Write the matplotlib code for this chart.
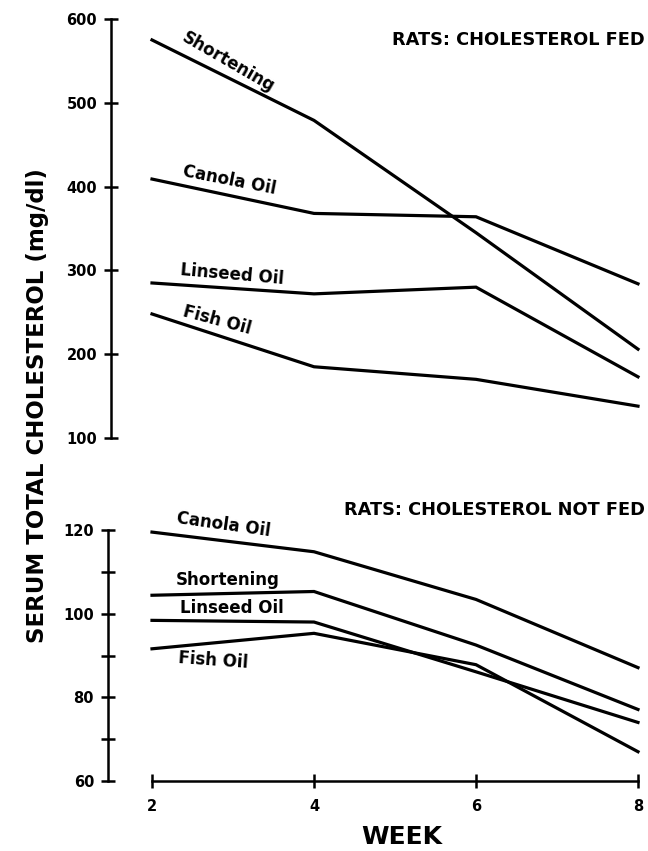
import matplotlib
matplotlib.use("Agg")
import matplotlib.pyplot as plt
from matplotlib.ticker import FixedLocator

plt.rcParams['font.family'] = ['DejaVu Sans']
plt.rcParams['font.weight'] = 'bold'

weeks = [2, 4, 6, 8]

# Cholesterol fed (mg/dl)
fed_shortening = [575, 479, 345, 206]
fed_canola = [409, 368, 364, 284]
fed_linseed = [285, 272, 280, 173]
fed_fish = [248, 185, 170, 138]

# Cholesterol not fed (mg/dl)
nf_canola = [119.5, 114.8, 103.4, 87.1]
nf_shortening = [104.4, 105.3, 92.5, 77.1]
nf_linseed = [98.4, 98.0, 86.1, 74.0]
nf_fish = [91.6, 95.3, 87.8, 67.0]

yticks_fed = [100, 200, 300, 400, 500, 600]
yticks_nf = [60, 80, 100, 120]
yminor_nf = [70, 90, 110]

W, H = 648, 851
fig = plt.figure(figsize=(W / 100, H / 100), dpi=100)

def frac_rect(left, top, right, bottom):
    return [left / W, 1 - bottom / H, (right - left) / W, (bottom - top) / H]

lw = 2.3
tick_fs = 10.5
lab_fs = 12
title_fs = 12.8

# ---------- top panel ----------
ax1 = fig.add_axes(frac_rect(111, 19, 645, 438))
xl_left = 2 - (152 - 111) / 81.0
xl_right = 8 + (645 - 638) / 81.0
for s in [fed_shortening, fed_canola, fed_linseed, fed_fish]:
    ax1.plot(weeks, s, color='black', lw=lw, solid_joinstyle='miter', clip_on=False)
ax1.set_xlim(xl_left, xl_right)
ax1.set_ylim(100, 600)
for sp in ['top', 'right', 'bottom']:
    ax1.spines[sp].set_visible(False)
ax1.spines['left'].set_linewidth(1.8)
ax1.set_xticks([])
ax1.set_yticks(yticks_fed)
ax1.set_yticklabels([str(v) for v in yticks_fed])
ax1.tick_params(axis='y', direction='inout', length=10, width=1.8, pad=5, labelsize=tick_fs)
ax1.text(1.0, 0.95, 'RATS: CHOLESTEROL FED', transform=ax1.transAxes, ha='right', va='center',
         fontsize=title_fs, fontweight='bold')
lab_kw = dict(ha='center', va='center', fontsize=lab_fs, fontweight='bold')
ax1.text(2.94, 549, 'Shortening', rotation=-30, **lab_kw)
ax1.text(2.95, 408, 'Canola Oil', rotation=-11, **lab_kw)
ax1.text(2.99, 294.5, 'Linseed Oil', rotation=-5, **lab_kw)
ax1.text(2.80, 241, 'Fish Oil', rotation=-15, **lab_kw)

# ---------- bottom panel ----------
ax2 = fig.add_axes(frac_rect(108, 530, 645, 781))
xl_left2 = 2 - (152 - 108) / 81.0
for s in [nf_canola, nf_shortening, nf_linseed, nf_fish]:
    ax2.plot(weeks, s, color='black', lw=lw, solid_joinstyle='miter', clip_on=False)
ax2.set_xlim(xl_left2, xl_right)
ax2.set_ylim(60, 120)
for sp in ['top', 'right']:
    ax2.spines[sp].set_visible(False)
ax2.spines['left'].set_linewidth(1.8)
ax2.spines['bottom'].set_linewidth(1.8)
ax2.spines['bottom'].set_bounds(2, 8)
ax2.set_xticks(weeks)
ax2.set_xticklabels([str(w) for w in weeks])
ax2.set_yticks(yticks_nf)
ax2.set_yticklabels([str(v) for v in yticks_nf])
ax2.yaxis.set_minor_locator(FixedLocator(yminor_nf))
ax2.tick_params(axis='y', which='both', direction='inout', length=10, width=1.8, pad=5, labelsize=tick_fs)
ax2.tick_params(axis='x', direction='inout', length=10, width=1.8, pad=8, labelsize=tick_fs)
ax2.text(1.0, 1.08, 'RATS: CHOLESTEROL NOT FED', transform=ax2.transAxes, ha='right', va='center',
         fontsize=title_fs, fontweight='bold', clip_on=False)
ax2.text(2.88, 121.2, 'Canola Oil', rotation=-8, clip_on=False, **lab_kw)
ax2.text(2.94, 108.0, 'Shortening', rotation=0, **lab_kw)
ax2.text(2.98, 101.3, 'Linseed Oil', rotation=0, **lab_kw)
ax2.text(2.75, 88.8, 'Fish Oil', rotation=-4, **lab_kw)

fig.text(38 / W, 1 - 406 / H, 'SERUM TOTAL CHOLESTEROL (mg/dl)', rotation=90, ha='center', va='center',
         fontsize=16.5, fontweight='bold')
fig.text(402 / W, 1 - 837 / H, 'WEEK', ha='center', va='center', fontsize=18, fontweight='bold')

fig.savefig('out.png', dpi=100)
